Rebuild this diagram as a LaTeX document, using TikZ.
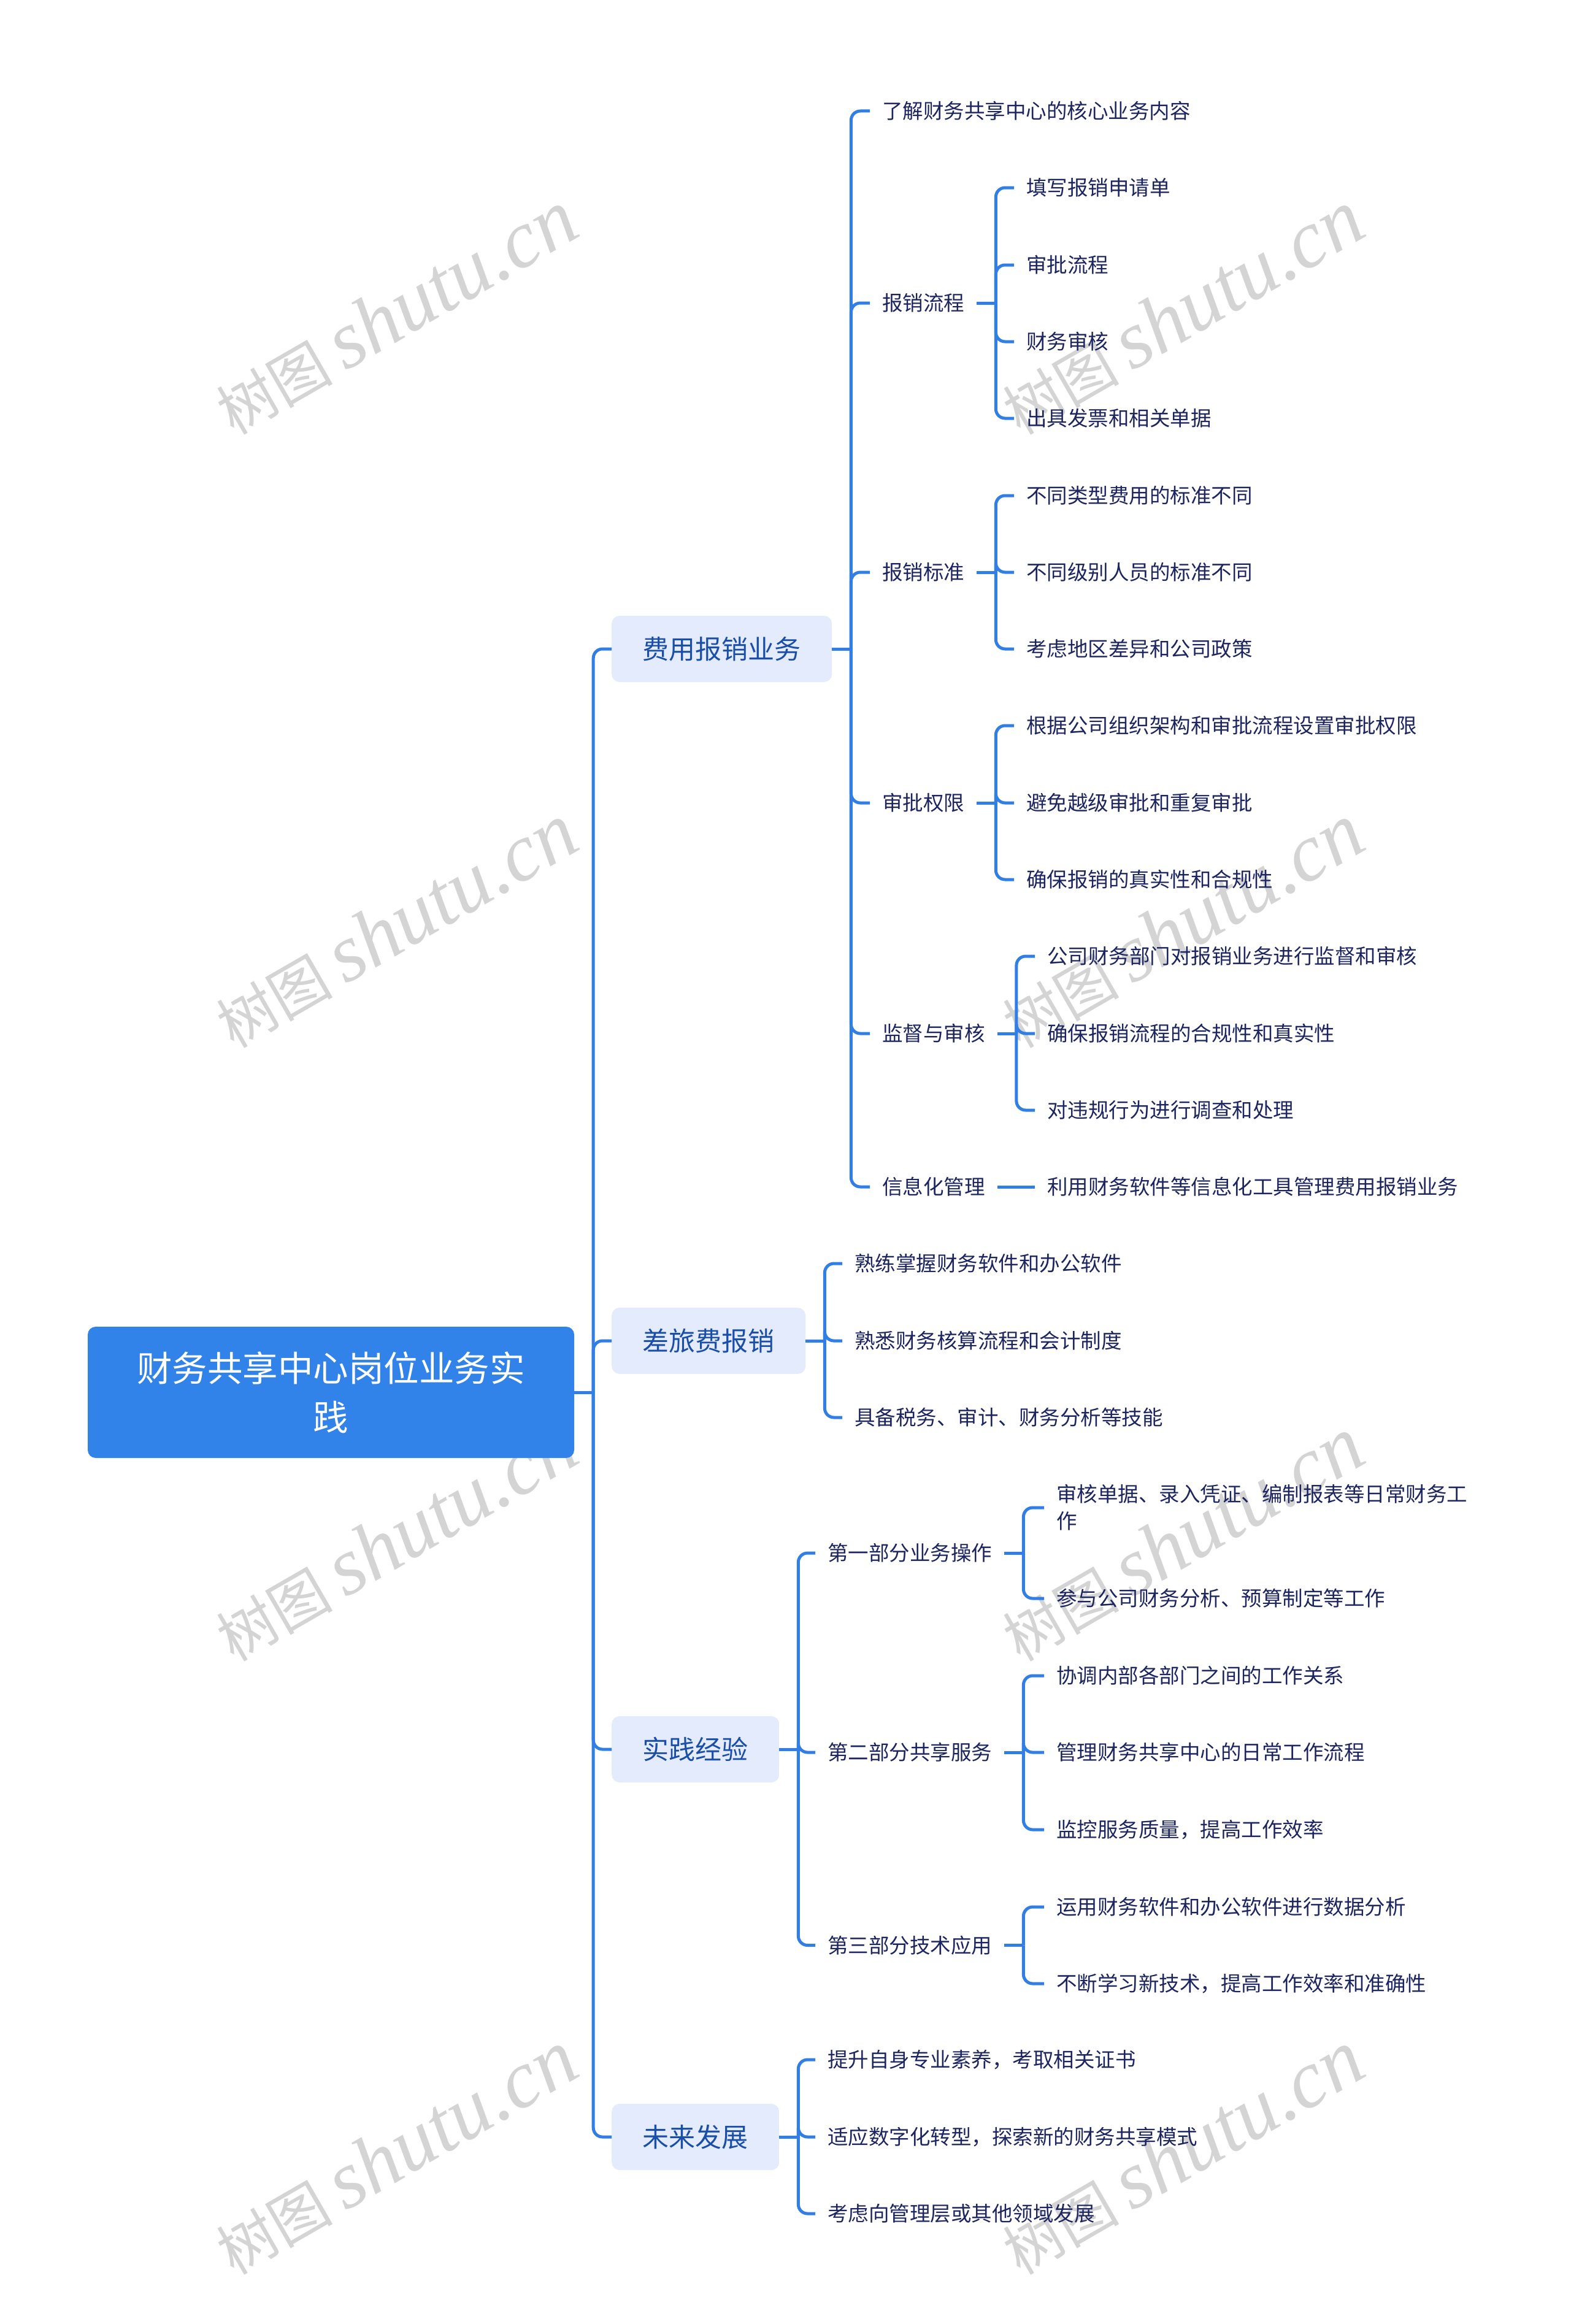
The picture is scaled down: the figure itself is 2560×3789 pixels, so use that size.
\documentclass[tikz,border=0pt]{standalone}
\usepackage{fontspec}
\setmainfont{Noto Sans CJK SC}
\newfontfamily\wmcjk{Noto Sans CJK SC}
\newfontfamily\wmlat{Liberation Serif}
\usetikzlibrary{calc}
\definecolor{linkblue}{RGB}{48,126,230}
\definecolor{rootblue}{RGB}{49,130,233}
\definecolor{topicfill}{RGB}{227,235,252}
\definecolor{topictext}{RGB}{26,78,168}
\definecolor{leaftext}{RGB}{28,37,96}
\definecolor{wmgray}{RGB}{212,212,212}
\begin{document}
\begin{tikzpicture}[x=1pt,y=-1pt,
  link/.style={draw=linkblue,line width=5pt},
  elbow/.style={link,rounded corners=15pt},
  rootbox/.style={fill=rootblue,rounded corners=13pt,text=white,
    font=\fontsize{57.5}{80}\selectfont,minimum width=793pt,minimum height=214pt,
    align=center,inner sep=0pt},
  topic/.style={fill=topicfill,rounded corners=13pt,text=topictext,
    font=\fontsize{43}{52}\selectfont,minimum height=108pt,inner xsep=50.5pt,
    inner ysep=0pt,anchor=west},
  leaf/.style={text=leaftext,font=\fontsize{33.5}{44}\selectfont,inner xsep=20pt,
    inner ysep=4pt,anchor=west,align=left},
  wm/.style={text=wmgray,rotate=30,inner sep=0pt}
]
\useasboundingbox (0,0) rectangle (2560,3789);
\fill[white] (0,0) rectangle (2560,3789);

% watermarks
\foreach \wx/\wy/\wn in {645/510/w1,645/1510/w2,645/2510/w3,645/3510/w4,
                         1927/510/w5,1927/1510/w6,1927/2510/w7,1927/3510/w8}{
  \node[wm] (\wn) at (\wx,\wy) {{\wmcjk\fontsize{95}{95}\selectfont 树图}\hspace{20pt}{\wmlat\itshape\fontsize{133}{133}\selectfont shutu.cn}};
}

% root
\node[rootbox] (root) at (539.5,2270) {财务共享中心岗位业务实\\践};

% level 1
\node[topic] (l1a) at (997,1058) {费用报销业务};
\node[topic] (l1b) at (997,2186) {差旅费报销};
\node[topic] (l1c) at (997,2852) {实践经验};
\node[topic] (l1d) at (997,3484) {未来发展};

% level 2 under 费用报销业务
\node[leaf] (a1) at (1418,181) {了解财务共享中心的核心业务内容};
\node[leaf] (a2) at (1418,494) {报销流程};
\node[leaf] (a3) at (1418,933) {报销标准};
\node[leaf] (a4) at (1418,1309) {审批权限};
\node[leaf] (a5) at (1418,1685) {监督与审核};
\node[leaf] (a6) at (1418,1935) {信息化管理};

% level 3
\node[leaf] (a21) at (1653,306) {填写报销申请单};
\node[leaf] (a22) at (1653,432) {审批流程};
\node[leaf] (a23) at (1653,557) {财务审核};
\node[leaf] (a24) at (1653,682) {出具发票和相关单据};
\node[leaf] (a31) at (1653,808) {不同类型费用的标准不同};
\node[leaf] (a32) at (1653,933) {不同级别人员的标准不同};
\node[leaf] (a33) at (1653,1058) {考虑地区差异和公司政策};
\node[leaf] (a41) at (1653,1183) {根据公司组织架构和审批流程设置审批权限};
\node[leaf] (a42) at (1653,1309) {避免越级审批和重复审批};
\node[leaf] (a43) at (1653,1434) {确保报销的真实性和合规性};
\node[leaf] (a51) at (1687,1559) {公司财务部门对报销业务进行监督和审核};
\node[leaf] (a52) at (1687,1685) {确保报销流程的合规性和真实性};
\node[leaf] (a53) at (1687,1810) {对违规行为进行调查和处理};
\node[leaf] (a61) at (1687,1935) {利用财务软件等信息化工具管理费用报销业务};

% 差旅费报销
\node[leaf] (b1) at (1373,2060) {熟练掌握财务软件和办公软件};
\node[leaf] (b2) at (1373,2186) {熟悉财务核算流程和会计制度};
\node[leaf] (b3) at (1373,2311) {具备税务、审计、财务分析等技能};

% 实践经验
\node[leaf] (c1) at (1329,2532) {第一部分业务操作};
\node[leaf] (c2) at (1329,2857) {第二部分共享服务};
\node[leaf] (c3) at (1329,3171.5) {第三部分技术应用};
\node[leaf] (c11) at (1702,2458) {审核单据、录入凭证、编制报表等日常财务工\\作};
\node[leaf] (c12) at (1702,2606) {参与公司财务分析、预算制定等工作};
\node[leaf] (c21) at (1702,2732) {协调内部各部门之间的工作关系};
\node[leaf] (c22) at (1702,2857) {管理财务共享中心的日常工作流程};
\node[leaf] (c23) at (1702,2983) {监控服务质量，提高工作效率};
\node[leaf] (c31) at (1702,3109) {运用财务软件和办公软件进行数据分析};
\node[leaf] (c32) at (1702,3234) {不断学习新技术，提高工作效率和准确性};

% 未来发展
\node[leaf] (d1) at (1329,3358) {提升自身专业素养，考取相关证书};
\node[leaf] (d2) at (1329,3484) {适应数字化转型，探索新的财务共享模式};
\node[leaf] (d3) at (1329,3609) {考虑向管理层或其他领域发展};

% connectors
\foreach \p/\kids in {root/{l1a,l1b,l1c,l1d},
                      l1a/{a1,a2,a3,a4,a5,a6},
                      a2/{a21,a22,a23,a24},
                      a3/{a31,a32,a33},
                      a4/{a41,a42,a43},
                      a5/{a51,a52,a53},
                      l1b/{b1,b2,b3},
                      l1c/{c1,c2,c3},
                      c1/{c11,c12},
                      c2/{c21,c22,c23},
                      c3/{c31,c32},
                      l1d/{d1,d2,d3}}{
  \coordinate (\p j) at ($(\p.east)+(31,0)$);
  \draw[link] (\p.east) -- (\p j);
  \foreach \k in \kids {
    \draw[elbow] (\p j) |- (\k.west);
  }
}
% single child: straight line
\draw[link] (a6.east) -- (a61.west);
\end{tikzpicture}
\end{document}
